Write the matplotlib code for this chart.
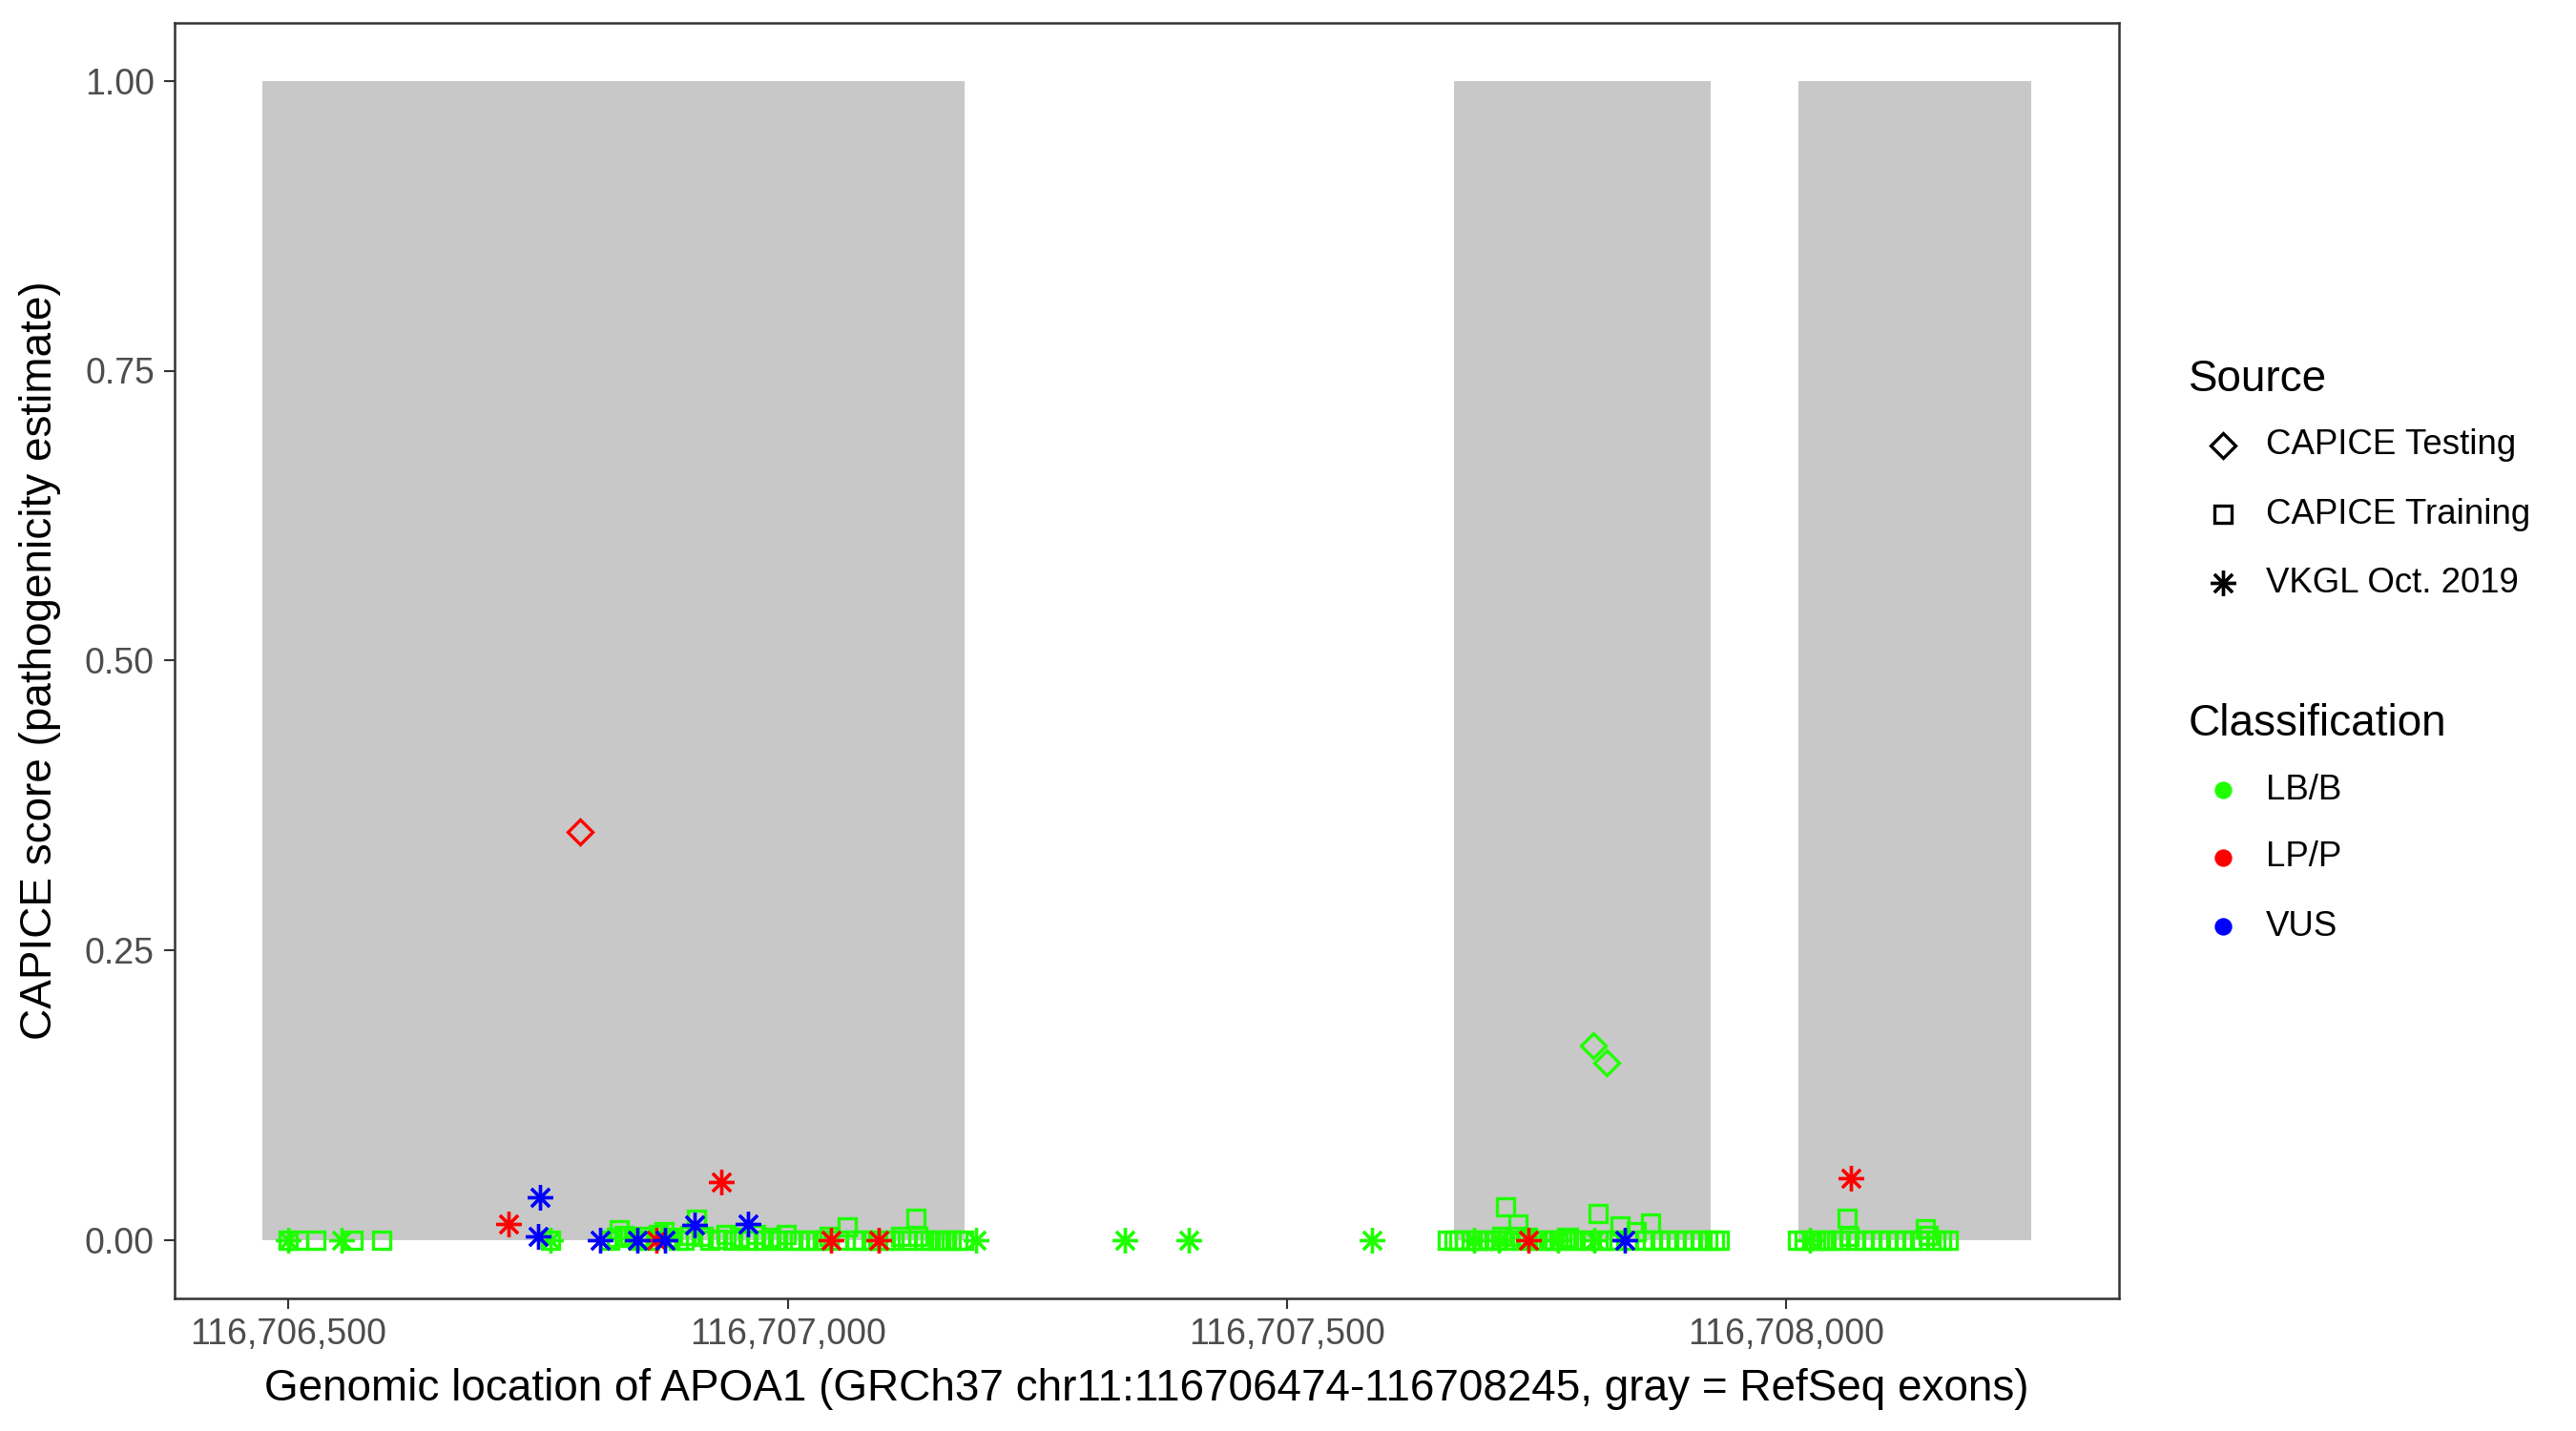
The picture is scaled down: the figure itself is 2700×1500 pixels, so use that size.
import matplotlib
matplotlib.use("Agg")
import matplotlib.pyplot as plt
from matplotlib.lines import Line2D
from matplotlib.ticker import FuncFormatter

plt.rcParams['font.family'] = ['Liberation Sans', 'DejaVu Sans']

GREEN = "#1FFF00"
RED = "#FF0000"
BLUE = "#0000FF"

# RefSeq exons (start, end)
exon_starts = [116706474, 116707667, 116708012]
exon_ends = [116707177, 116707924, 116708245]

# CAPICE Training, LB/B (squares)
train_pos = [116706500, 116706510, 116706527, 116706565, 116706593, 116706762,
             116706822, 116706828, 116706831, 116706836, 116706842, 116706850, 116706856,
             116706862, 116706870, 116706876, 116706882, 116706890, 116706896, 116706902,
             116706909, 116706915, 116706922, 116706930, 116706938, 116706945, 116706952,
             116706960, 116706968, 116706975, 116706983, 116706990, 116706998, 116707005,
             116707012, 116707020, 116707028, 116707035, 116707041, 116707050, 116707060,
             116707068, 116707075, 116707083, 116707090, 116707098, 116707106, 116707113,
             116707120, 116707128, 116707130, 116707136, 116707143, 116707150, 116707157,
             116707164, 116707170, 116707176,
             116707661, 116707667, 116707672, 116707678, 116707684, 116707690, 116707697,
             116707703, 116707709, 116707715, 116707719, 116707722, 116707728, 116707731,
             116707735, 116707741, 116707748, 116707755, 116707762, 116707768, 116707775,
             116707782, 116707789, 116707796, 116707803, 116707812, 116707815, 116707822,
             116707829, 116707834, 116707842, 116707850, 116707858, 116707864, 116707866,
             116707874, 116707882, 116707890, 116707898, 116707906, 116707914, 116707921,
             116707928, 116707933,
             116708011, 116708018, 116708026, 116708033, 116708040, 116708047, 116708054,
             116708061, 116708063, 116708070, 116708078, 116708086, 116708094, 116708102,
             116708110, 116708118, 116708126, 116708134, 116708139, 116708142, 116708150,
             116708156, 116708162]
train_score = [0.0, 0.0, 0.0, 0.0, 0.0, 0.0,
               0.0, 0.002, 0.009, 0.004, 0.002, 0.0, 0.003,
               0.0, 0.005, 0.007, 0.002, 0.0, 0.0, 0.004,
               0.018, 0.003, 0.0, 0.001, 0.005, 0.0, 0.002,
               0.0, 0.005, 0.0, 0.002, 0.0, 0.005, 0.0,
               0.0, 0.0, 0.0, 0.0, 0.003, 0.0, 0.011,
               0.0, 0.0, 0.0, 0.0, 0.0, 0.0, 0.003,
               0.0, 0.019, 0.003, 0.0, 0.0, 0.0, 0.0,
               0.0, 0.0, 0.0,
               0.0, 0.0, 0.0, 0.0, 0.0, 0.0, 0.0,
               0.0, 0.0, 0.003, 0.029, 0.0, 0.003, 0.0136,
               0.0, 0.002, 0.0, 0.0, 0.0, 0.0, 0.0,
               0.002, 0.0, 0.0, 0.0, 0.0227, 0.0, 0.0,
               0.0, 0.0125, 0.0, 0.007, 0.0, 0.015, 0.0,
               0.0, 0.0, 0.0, 0.0, 0.0, 0.0, 0.0,
               0.0, 0.0,
               0.0, 0.0, 0.0, 0.0, 0.0, 0.0, 0.0,
               0.019, 0.003, 0.0, 0.0, 0.0, 0.0, 0.0,
               0.0, 0.0, 0.0, 0.0, 0.0098, 0.004, 0.0,
               0.0, 0.0]

# CAPICE Testing (diamonds)
test_pos = [116706792, 116707807, 116707820]
test_score = [0.352, 0.168, 0.1526]
test_class = ["LP/P", "LB/B", "LB/B"]

# VKGL Oct. 2019 (asterisks)
vkgl_pos = [116706500, 116706553, 116706762, 116707189, 116707338, 116707402,
            116707585, 116707687, 116707712, 116707771, 116707808, 116708024,
            116706720, 116706868, 116706933, 116707043, 116707091, 116707742, 116708065,
            116706752, 116706750, 116706812, 116706849, 116706877, 116706907, 116706960,
            116707838]
vkgl_score = [0.0, 0.0, 0.0, 0.0, 0.0, 0.0,
              0.0, 0.0, 0.0, 0.0, 0.0, 0.0,
              0.0139, 0.0, 0.0497, 0.0, 0.0, 0.0, 0.0535,
              0.037, 0.003, 0.0, 0.0, 0.0, 0.0128, 0.014,
              0.0]
vkgl_class = ["LB/B"] * 12 + ["LP/P"] * 7 + ["VUS"] * 8

class_colors = {"LB/B": GREEN, "LP/P": RED, "VUS": BLUE}
classes = ["LB/B", "LP/P", "VUS"]

fig = plt.figure(figsize=(9, 5), dpi=300)
ax = fig.add_axes([0.0676, 0.093, 0.8227 - 0.0676, 0.984 - 0.093])

for s, e in zip(exon_starts, exon_ends):
    ax.fill_between([s, e], [0, 0], [1, 1], color="#C8C8C8", lw=0, zorder=1)

ASTER = (8, 2, 0)
ms_sq = 4.4
ms_ast = 6.4
ms_dia = 4.3
mew = 0.8

ax.plot(train_pos, train_score, ls="none", marker="s", ms=ms_sq, mfc="none",
        mec=GREEN, mew=mew, zorder=3)
for c in classes:
    xs = [p for p, k in zip(vkgl_pos, vkgl_class) if k == c]
    ys = [v for v, k in zip(vkgl_score, vkgl_class) if k == c]
    ax.plot(xs, ys, ls="none", marker=ASTER, ms=ms_ast, mec=class_colors[c],
            mew=mew, zorder=4)
    xs = [p for p, k in zip(test_pos, test_class) if k == c]
    ys = [v for v, k in zip(test_score, test_class) if k == c]
    if xs:
        ax.plot(xs, ys, ls="none", marker="D", ms=ms_dia, mfc="none",
                mec=class_colors[c], mew=mew, zorder=4)

xmin, xmax = 116706474, 116708245
pad = 0.05 * (xmax - xmin)
ax.set_xlim(xmin - pad, xmax + pad)
ax.set_ylim(-0.05, 1.05)
ax.set_xticks([116706500, 116707000, 116707500, 116708000])
ax.xaxis.set_major_formatter(FuncFormatter(lambda v, p: f"{int(round(v)):,}"))
ax.set_yticks([0, 0.25, 0.5, 0.75, 1.0])
ax.yaxis.set_major_formatter(FuncFormatter(lambda v, p: f"{v:.2f}"))
ax.tick_params(axis="both", length=2.75, width=0.5, color="#333333",
               labelsize=9.0, labelcolor="#4D4D4D", pad=2.2)
for sp in ax.spines.values():
    sp.set_color("#333333")
    sp.set_linewidth(0.6)

ax.set_xlabel("Genomic location of APOA1 (GRCh37 chr11:116706474-116708245, gray = RefSeq exons)",
              fontsize=11, labelpad=4)
ax.set_ylabel("CAPICE score (pathogenicity estimate)", fontsize=11, labelpad=6)

# legends
fig.text(0.8495, 0.7348, "Source", fontsize=11, va="center", ha="left")
src_labels = ["CAPICE Testing", "CAPICE Training", "VKGL Oct. 2019"]
src_markers = ["D", "s", ASTER]
src_ms = [ms_dia, ms_sq, ms_ast]
src_y = [0.6889, 0.6406, 0.5924]
for lab, mk, m, y in zip(src_labels, src_markers, src_ms, src_y):
    fig.add_artist(Line2D([0.8629], [y], transform=fig.transFigure, marker=mk, ms=m,
                          mfc="none", mec="black", mew=mew, ls="none"))
    fig.text(0.8795, y, lab, fontsize=8.8, va="center", ha="left")

fig.text(0.8495, 0.4937, "Classification", fontsize=11, va="center", ha="left")
cls_y = [0.4478, 0.4007, 0.3525]
for c, y in zip(classes, cls_y):
    fig.add_artist(Line2D([0.8629], [y], transform=fig.transFigure, marker="o", ms=4.4,
                          mfc=class_colors[c], mec="none", ls="none"))
    fig.text(0.8795, y, c, fontsize=8.8, va="center", ha="left")

fig.savefig("out.png", dpi=300)
